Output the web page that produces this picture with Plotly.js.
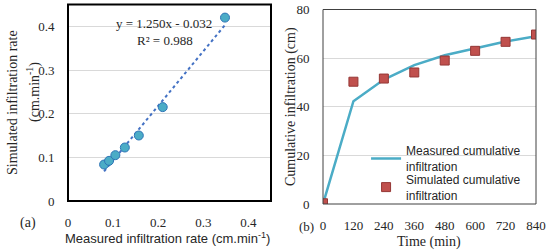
<!DOCTYPE html>
<html>
<head>
<meta charset="utf-8">
<script src="https://cdn.plot.ly/plotly-3.0.1.min.js"></script>
<style>html,body{margin:0;padding:0;background:#fff;}#chart{width:548px;height:250px;}</style>
</head>
<body>
<div id="chart"></div>
<script>
// Panel (a): measured vs simulated infiltration rate (cm/min)
const measuredRate = [0.080, 0.091, 0.105, 0.126, 0.157, 0.210, 0.348];
const simulatedRate = [0.0835, 0.092, 0.105, 0.1225, 0.150, 0.215, 0.420];
const fitSlope = 1.250;
const fitIntercept = -0.032;
const fitEquation = "y = 1.250x - 0.032";
const fitR2 = "R² = 0.988";
const rateTicks = [0, 0.1, 0.2, 0.3, 0.4];

// Panel (b): cumulative infiltration (cm) vs time (min)
const timeMin = [0, 120, 240, 360, 480, 600, 720, 840];
const measuredCum = [0, 42.3, 51.2, 57.1, 61.2, 64.0, 66.8, 69.0];
const simulatedCum = [0.3, 50.3, 51.6, 54.1, 59.0, 63.0, 66.7, 69.7];
const cumTicks = [0, 20, 40, 60, 80];

const serif = "Liberation Serif";
const sans = "Liberation Sans";
const txt = "#262626";

const xMin = Math.min(...measuredRate), xMax = Math.max(...measuredRate);
const fitX = [xMin, xMax];
const fitY = fitX.map(v => fitSlope * v + fitIntercept);

const traces = [
  {x: fitX, y: fitY, xaxis: "x", yaxis: "y", mode: "lines", showlegend: false,
   line: {color: "#4472C4", width: 2, dash: "dot"}, hoverinfo: "skip"},
  {x: measuredRate, y: simulatedRate, xaxis: "x", yaxis: "y", mode: "markers", showlegend: false,
   marker: {color: "#4BACC6", size: 9, line: {color: "#2E75B6", width: 1}}},
  {x: timeMin, y: measuredCum, xaxis: "x2", yaxis: "y2", mode: "lines",
   name: "Measured cumulative<br>infiltration", legend: "legend",
   line: {color: "#4BACC6", width: 2.5}},
  {x: timeMin, y: simulatedCum, xaxis: "x2", yaxis: "y2", mode: "markers",
   name: "Simulated cumulative<br>infiltration", legend: "legend2",
   marker: {symbol: "square", color: "#C0504D", size: 9, line: {color: "#953735", width: 1}}}
];

const legendBase = {xanchor: "left", yanchor: "top", bgcolor: "rgba(255,255,255,0)", borderwidth: 0,
  font: {family: sans, size: 12, color: txt}};

const tickFont = {family: serif, size: 13, color: txt};
const hidden = "rgba(0,0,0,0)";

const layout = {
  width: 548, height: 250,
  margin: {l: 0, r: 0, t: 0, b: 0},
  paper_bgcolor: "#fff", plot_bgcolor: "#fff",
  showlegend: true,
  legend: Object.assign({x: 0.668, y: 1 - 136.5/250}, legendBase),
  legend2: Object.assign({x: 0.668, y: 1 - 165/250}, legendBase),
  xaxis: {domain: [68/548, 271/548], anchor: "y", range: [0, 0.45],
          tickvals: rateTicks, showgrid: false, zeroline: false, showline: false,
          ticks: "outside", ticklen: 9, tickcolor: hidden, tickfont: tickFont},
  yaxis: {domain: [49/250, 245.5/250], anchor: "x", range: [0, 0.45],
          tickvals: rateTicks, showgrid: true, gridcolor: "#d9d9d9", gridwidth: 1, zeroline: false,
          showline: false, ticks: "outside", ticklen: 10, tickcolor: hidden, tickfont: tickFont},
  xaxis2: {domain: [323/548, 536/548], anchor: "y2", range: [0, 840],
           tickvals: timeMin, showgrid: false, zeroline: false, showline: false,
           ticks: "outside", ticklen: 9, tickcolor: hidden, tickfont: tickFont},
  yaxis2: {domain: [46/250, 240.5/250], anchor: "x2", range: [0, 80],
           tickvals: cumTicks, showgrid: true, gridcolor: "#d9d9d9", gridwidth: 1,
           zeroline: false, showline: false, ticks: "outside", ticklen: 10, tickcolor: hidden,
           tickfont: tickFont},
  shapes: [
    {type: "rect", xref: "x domain", yref: "y domain", x0: 0, x1: 1, y0: 0, y1: 1,
     line: {color: "#000", width: 2}, layer: "above"},
    {type: "rect", xref: "x2 domain", yref: "y2 domain", x0: 0, x1: 1, y0: 0, y1: 1,
     line: {color: "#404040", width: 1}, layer: "above"}
  ],
  annotations: [
    {xref: "paper", yref: "paper", x: 164/548, y: 1 - 24/250, text: fitEquation, showarrow: false,
     font: {family: serif, size: 13, color: txt}, xanchor: "center", yanchor: "middle"},
    {xref: "paper", yref: "paper", x: 165/548, y: 1 - 40/250, text: fitR2, showarrow: false,
     font: {family: serif, size: 13, color: txt}, xanchor: "center", yanchor: "middle"},
    {xref: "paper", yref: "paper", x: 13/548, y: 1 - 103/250, text: "Simulated infiltration rate",
     textangle: -90, showarrow: false, font: {family: serif, size: 14, color: txt},
     xanchor: "center", yanchor: "middle"},
    {xref: "paper", yref: "paper", x: 33/548, y: 1 - 92/250, text: "(cm.min<sup>-1</sup>)",
     textangle: -90, showarrow: false, font: {family: serif, size: 14, color: txt},
     xanchor: "center", yanchor: "middle"},
    {xref: "paper", yref: "paper", x: 167/548, y: 1 - 238.3/250,
     text: "Measured infiltration rate (cm.min<sup>-1</sup>)", showarrow: false,
     font: {family: sans, size: 13, color: txt}, xanchor: "center", yanchor: "middle"},
    {xref: "paper", yref: "paper", x: 28/548, y: 1 - 222.7/250, text: "(a)", showarrow: false,
     font: {family: serif, size: 14, color: txt}, xanchor: "center", yanchor: "middle"},
    {xref: "paper", yref: "paper", x: 291/548, y: 1 - 107/250, text: "Cumulative infiltration (cm)",
     textangle: -90, showarrow: false, font: {family: serif, size: 14, color: txt},
     xanchor: "center", yanchor: "middle"},
    {xref: "paper", yref: "paper", x: 306/548, y: 1 - 226/250, text: "(b)", showarrow: false,
     font: {family: serif, size: 13, color: txt}, xanchor: "center", yanchor: "middle"},
    {xref: "paper", yref: "paper", x: 429/548, y: 1 - 241.5/250, text: "Time (min)", showarrow: false,
     font: {family: serif, size: 14, color: txt}, xanchor: "center", yanchor: "middle"}
  ]
};

Plotly.newPlot("chart", traces, layout, {displayModeBar: false, staticPlot: true});
</script>
</body>
</html>
